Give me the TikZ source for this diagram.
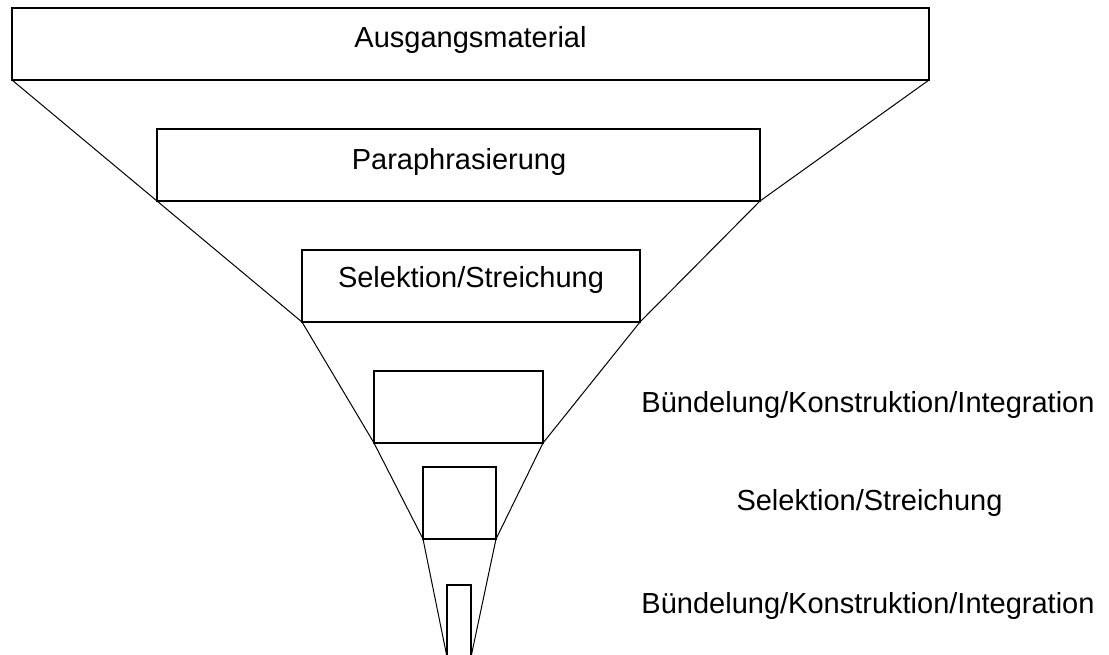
\documentclass[tikz,border=0pt]{standalone}
\usepackage{fontspec}
\setmainfont{Liberation Sans}
\tikzstyle{stage}=[shape=rectangle,draw,line width=0.75pt,inner sep=0,outer sep=0,minimum height=36pt]
\tikzstyle{funnel}=[line width=0.5pt]
\tikzstyle{txt}=[anchor=base,inner sep=0,font=\fontsize{14.5}{17}\selectfont]

\begin{document}
\begin{tikzpicture}[x=0.5pt,y=-0.5pt]
\clip (0,0) rectangle (1109,654);

\node[stage,minimum width=458.5pt] (b1) at (470.5,44) {};
\node[stage,minimum width=301.5pt] (b2) at (458.5,165) {};
\node[stage,minimum width=169pt] (b3) at (471,286) {};
\node[stage,minimum width=84.5pt] (b4) at (458.5,407) {};
\node[stage,minimum width=36.5pt] (b5) at (459.5,503) {};
\node[stage,minimum width=12pt] (b6) at (459,621) {};

\foreach \a/\b in {b1/b2,b2/b3,b3/b4,b4/b5,b5/b6}{
\draw[funnel] (\a.south west)--(\b.south west) (\a.south east)--(\b.south east);
}

\node[txt] (t1) at (470.5,47) {Ausgangsmaterial};
\node[txt] (t2) at (459,169) {Paraphrasierung};
\node[txt] (t3) at (471,287) {Selektion/Streichung};
\node[txt] (t4) at (868,412) {Bündelung/Konstruktion/Integration};
\node[txt] (t5) at (869.5,510) {Selektion/Streichung};
\node[txt] (t6) at (868,613) {Bündelung/Konstruktion/Integration};

\end{tikzpicture}
\end{document}
